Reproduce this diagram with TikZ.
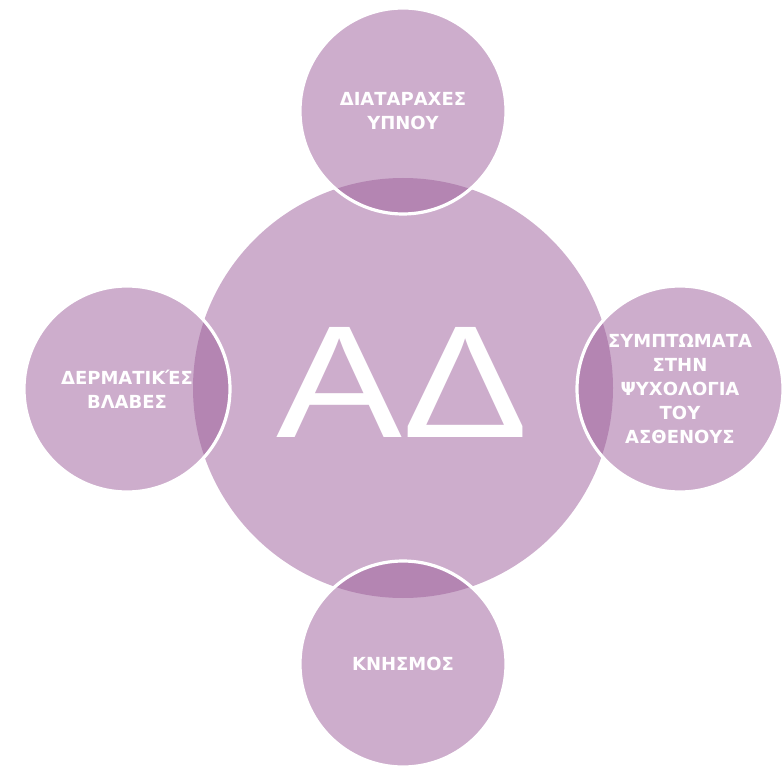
\documentclass[tikz,border=0pt]{standalone}
\usepackage{fontspec}
\setmainfont{Liberation Sans}
\newfontfamily\labelfont{DejaVu Sans}
\begin{document}
\definecolor{lilac}{HTML}{CDADCC}
\definecolor{lilacdark}{HTML}{B485B2}
\begin{tikzpicture}[x=0.75pt,y=0.75pt,
  bigdisc/.style={fill=lilac},
  disc/.style={fill=lilac},
  rim/.style={draw=white,line width=2.4pt},
  label/.style={text=white,font=\labelfont\bfseries\fontsize{13.5}{18}\selectfont,align=center,inner sep=0pt},
  title/.style={text=white,font=\fontsize{120}{120}\selectfont,inner sep=0pt,xscale=1.18}]
\useasboundingbox (0,0) rectangle (782,769);
\clip (0,0) rectangle (782,769);

% centres of the five discs
\coordinate (c) at (403,381);
\coordinate (t) at (403,658);
\coordinate (l) at (127,380);
\coordinate (r) at (680,380);
\coordinate (b) at (403,105);

% large central disc
\fill[bigdisc] (c) circle[radius=157.5pt];

% satellite discs
\foreach \p in {t,l,r,b}{
  \fill[disc] (\p) circle[radius=77.25pt];
}

% darker lens where each satellite overlaps the centre
\begin{scope}
  \clip (c) circle[radius=157.5pt];
  \foreach \p in {t,l,r,b}{
    \fill[lilacdark] (\p) circle[radius=77.25pt];
  }
\end{scope}

% white rims
\foreach \p in {t,l,r,b}{
  \draw[rim] (\p) circle[radius=77.25pt];
}

% labels
\node[title,anchor=base] (ad) at (403,332) {ΑΔ};
\node[label] (sleep) at (t) {ΔΙΑΤΑΡΑΧΕΣ\\ΥΠΝΟΥ};
\node[label] (skin) at (l) {ΔΕΡΜΑΤΙΚΈΣ\\ΒΛΑΒΕΣ};
\node[label] (psych) at (r) {ΣΥΜΠΤΩΜΑΤΑ\\ΣΤΗΝ\\ΨΥΧΟΛΟΓΙΑ\\ΤΟΥ\\ΑΣΘΕΝΟΥΣ};
\node[label] (itch) at (b) {ΚΝΗΣΜΟΣ};
\end{tikzpicture}
\end{document}
